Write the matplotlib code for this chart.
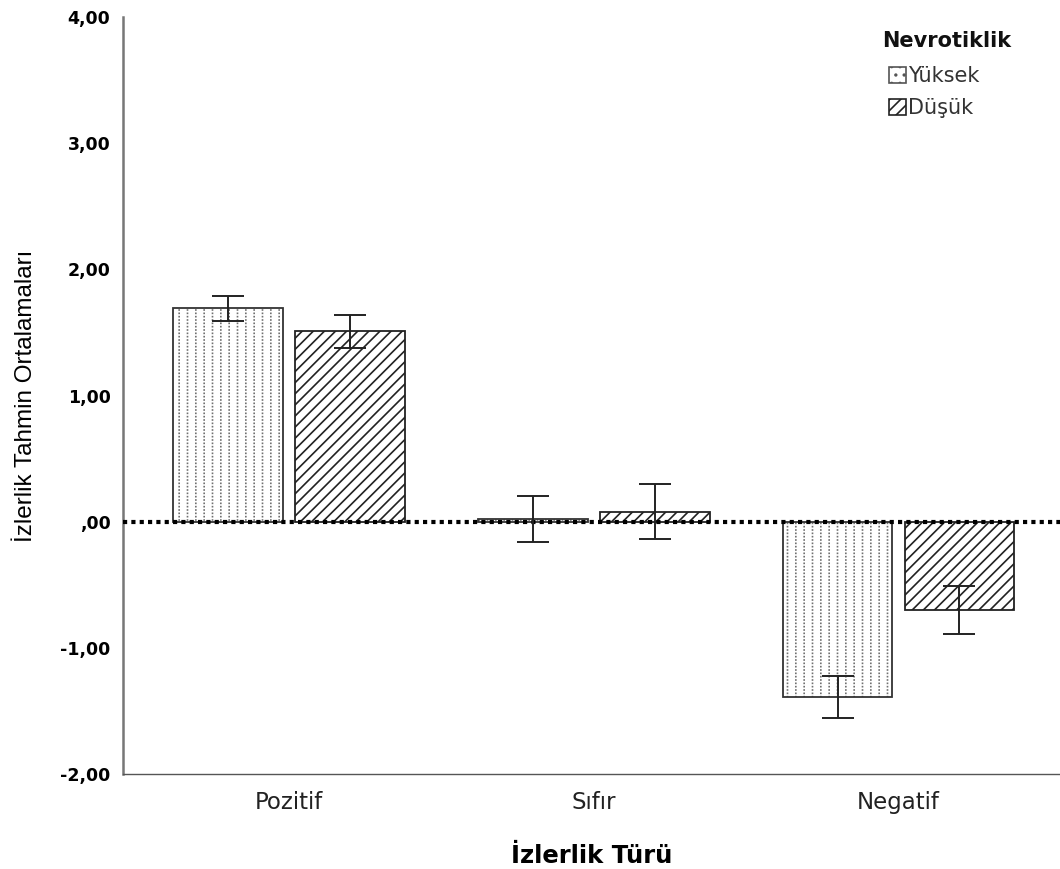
import matplotlib
matplotlib.use("Agg")
import matplotlib.pyplot as plt
import numpy as np
from matplotlib.patches import Patch

categories = ["Pozitif", "Sıfır", "Negatif"]
groups = ["Yüksek", "Düşük"]
means_yuksek = [1.69, 0.02, -1.39]
means_dusuk = [1.51, 0.08, -0.70]
err_yuksek = [0.10, 0.18, 0.17]
err_dusuk = [0.13, 0.22, 0.19]
yticks = [4, 3, 2, 1, 0, -1, -2]
ytick_labels = ["4,00", "3,00", "2,00", "1,00", ",00", "-1,00", "-2,00"]

plt.rcParams['font.family'] = ['DejaVu Sans']
plt.rcParams['hatch.linewidth'] = 1.2

W, H = 1060, 869
fig = plt.figure(figsize=(W / 100, H / 100), dpi=100)
ax = fig.add_axes([123 / W, 1 - 774 / H, 1 - 123 / W, (774 - 17) / H])

x = np.arange(len(categories))
w = 0.36
off = 0.2
# Yüksek: grey vertical lines broken into dots by a white horizontal hatch
ax.bar(x - off, means_yuksek, w, facecolor='white', edgecolor='#707070',
       hatch='||', linewidth=0, zorder=2)
ax.bar(x - off, means_yuksek, w, facecolor='none', edgecolor='white',
       hatch='-----', linewidth=0, zorder=2.2)
ax.bar(x - off, means_yuksek, w, facecolor='none', edgecolor='#333333',
       linewidth=1.3, zorder=2.5)
ax.bar(x + off, means_dusuk, w, facecolor='white', edgecolor='#222222',
       hatch='///', linewidth=1.3, zorder=2)
ax.errorbar(x - off, means_yuksek, yerr=err_yuksek, fmt='none', ecolor='#222222',
            elinewidth=1.4, capsize=11.5, capthick=1.4, zorder=4)
ax.errorbar(x + off, means_dusuk, yerr=err_dusuk, fmt='none', ecolor='#222222',
            elinewidth=1.4, capsize=11.5, capthick=1.4, zorder=4)
ax.axhline(0, color='black', linestyle=(0, (1, 1)), linewidth=3, zorder=3)

ax.set_xlim(-0.545, 2.53)
ax.set_ylim(-2, 4)
ax.set_yticks(yticks)
ax.set_yticklabels(ytick_labels, fontweight='bold', fontsize=12.5,
                   family=['DejaVu Sans'])
ax.set_xticks(x)
ax.set_xticklabels(categories, fontsize=16.5, color='#222222')
ax.tick_params(axis='both', length=0)
ax.tick_params(axis='y', pad=9)
ax.tick_params(axis='x', pad=12)
for s in ['top', 'right']:
    ax.spines[s].set_visible(False)
ax.spines['left'].set_color('#777777')
ax.spines['bottom'].set_color('#555555')
ax.spines['left'].set_linewidth(1.8)
ax.spines['bottom'].set_linewidth(1.0)

ax.set_xlabel("İzlerlik Türü", fontsize=17.5, fontweight='bold', labelpad=22)
ax.set_ylabel("İzlerlik Tahmin Ortalamaları", fontsize=17.5,
              family=['Liberation Sans', 'DejaVu Sans'], labelpad=17)

handles = [Patch(facecolor='white', edgecolor='#555555', hatch='..', linewidth=1.2,
                 label=groups[0]),
           Patch(facecolor='white', edgecolor='#222222', hatch='///', linewidth=1.2,
                 label=groups[1])]
leg = fig.legend(handles=handles, loc='upper left',
                 bbox_to_anchor=(889 / W, 1 - 66 / H), frameon=False, fontsize=15,
                 handlelength=0.8, handleheight=0.8, handletextpad=0.1,
                 labelspacing=0.6, borderpad=0, borderaxespad=0)
for t in leg.get_texts():
    t.set_color('#333333')
fig.text(947 / W, 1 - 41 / H, "Nevrotiklik", fontsize=15, fontweight='bold',
         ha='center', va='center', color='#111111')

fig.savefig("out.png", dpi=100)
